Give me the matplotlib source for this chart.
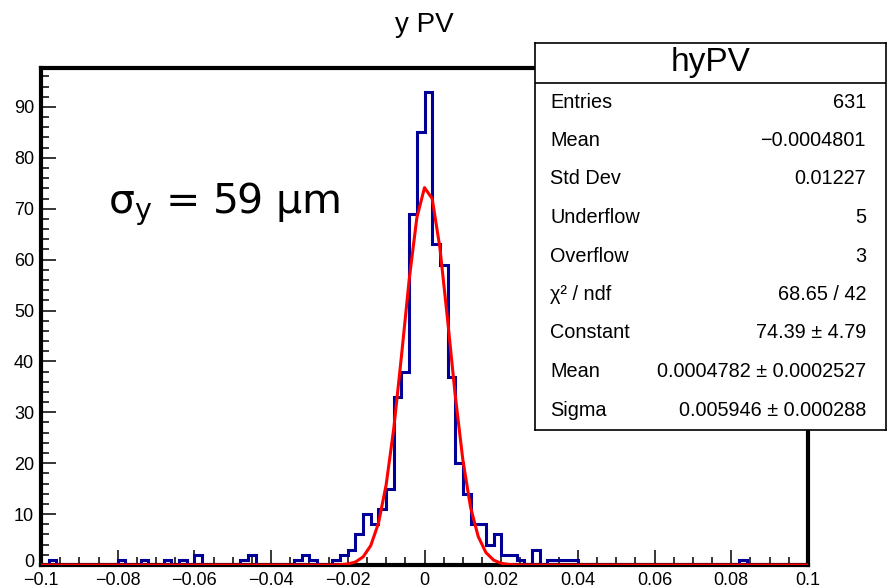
import numpy as np
import matplotlib
matplotlib.use("Agg")
import matplotlib.pyplot as plt
import matplotlib.transforms as mtransforms
from matplotlib.ticker import MultipleLocator, FixedLocator, FixedFormatter

# ---- data -------------------------------------------------------------
x_min, x_max, n_bins = -0.1, 0.1, 100
counts = np.zeros(n_bins)
bin_values = {
    1: 1, 10: 1, 13: 1, 16: 1, 18: 1, 20: 2, 26: 1, 27: 2,
    33: 1, 34: 2, 35: 1, 38: 1, 39: 2, 40: 3, 41: 6, 42: 10, 43: 8,
    44: 11, 45: 15, 46: 33, 47: 38, 48: 69, 49: 85, 50: 93, 51: 63,
    52: 59, 53: 37, 54: 20, 55: 14, 56: 8, 57: 8, 58: 4, 59: 6,
    60: 2, 61: 2, 62: 1, 64: 3, 66: 1, 67: 1, 68: 1, 69: 1, 91: 1,
}
for k, v in bin_values.items():
    counts[k] = v

fit_constant = 74.39
fit_mean = 0.0004782
fit_sigma = 0.005946
fit_npx = 100

x_tick_values = [-0.1, -0.08, -0.06, -0.04, -0.02, 0, 0.02, 0.04, 0.06, 0.08, 0.1]
x_tick_labels = ["\u22120.1", "\u22120.08", "\u22120.06", "\u22120.04", "\u22120.02",
                 "0", "0.02", "0.04", "0.06", "0.08", "0.1"]
y_tick_values = [0, 10, 20, 30, 40, 50, 60, 70, 80, 90]

title = "y PV"
annotation = "$\\mathregular{\\sigma_y}$ = 59 \u03bcm"
stats_title = "hyPV"
stats_labels = ["Entries", "Mean", "Std Dev", "Underflow", "Overflow",
                "\u03c7\u00b2 / ndf", "Constant", "Mean", "Sigma"]
stats_values = ["631", "\u22120.0004801", "0.01227", "5", "3", "68.65 / 42",
                "74.39 \u00b1 4.79", "0.0004782 \u00b1 0.0002527",
                "0.005946 \u00b1 0.000288"]

# ---- figure -----------------------------------------------------------
W, H = 888, 588
fig = plt.figure(figsize=(W / 100, H / 100), dpi=100)
helv = ["Liberation Sans", "DejaVu Sans"]

def fx(px):
    return px / W

def fy(py):
    return 1 - py / H

ax_l, ax_r, ax_t, ax_b = 41, 808, 68, 565
ax = fig.add_axes([fx(ax_l), fy(ax_b), fx(ax_r) - fx(ax_l), fy(ax_t) - fy(ax_b)])

edges = np.linspace(x_min, x_max, n_bins + 1)
ax.stairs(counts, edges, baseline=0, color="#000099", lw=2.2, zorder=3)

xf = np.linspace(x_min, x_max, fit_npx + 1)
yf = fit_constant * np.exp(-0.5 * ((xf - fit_mean) / fit_sigma) ** 2)
ax.plot(xf, yf, color="#ff0000", lw=2.2, zorder=4)

ax.set_xlim(x_min, x_max)
ax.set_ylim(0, counts.max() * 1.05)

for s in ax.spines.values():
    s.set_linewidth(3)
    s.set_color("black")

ax.xaxis.set_major_locator(FixedLocator(x_tick_values))
ax.xaxis.set_major_formatter(FixedFormatter(x_tick_labels))
ax.xaxis.set_minor_locator(MultipleLocator(0.005))
ax.yaxis.set_major_locator(FixedLocator(y_tick_values))
ax.yaxis.set_minor_locator(MultipleLocator(2))
ax.tick_params(which="both", direction="in", top=False, right=False, color="black")
ax.tick_params(which="major", length=11, width=1.1, labelsize=13, pad=4)
ax.tick_params(which="minor", length=5.5, width=1.1)
for lab in ax.get_xticklabels() + ax.get_yticklabels():
    lab.set_family(helv)
ax.tick_params(axis="y", pad=5)
ax.tick_params(axis="x", pad=5)

# nudge the y "0" label up slightly so it clears the x "-0.1" label
zero_lab = ax.yaxis.get_major_ticks()[0].label1
zero_lab.set_transform(zero_lab.get_transform() +
                       mtransforms.ScaledTranslation(0, 3 / 72, fig.dpi_scale_trans))

fig.text(fx(424.5), fy(25), title, ha="center", va="center", fontsize=20, family=helv)
fig.text(fx(108), fy(204), annotation, ha="left", va="center", fontsize=29.5,
         family=["DejaVu Sans"])

# ---- stats box ----------------------------------------------------------
bl, br, bt, bb = 535, 886, 43, 430
sax = fig.add_axes([fx(bl), fy(bb), fx(br) - fx(bl), fy(bt) - fy(bb)], zorder=10)
sax.set_xlim(bl, br)
sax.set_ylim(bb, bt)
sax.set_xticks([])
sax.set_yticks([])
sax.set_facecolor("white")
for s in sax.spines.values():
    s.set_linewidth(1.2)
sax.axhline(83, color="black", lw=1.2)
sax.text((bl + br) / 2, 62, stats_title, ha="center", va="center", fontsize=24, family=helv)
row_y0, row_dy = 102, 38.5
for i, (lab, val) in enumerate(zip(stats_labels, stats_values)):
    yy = row_y0 + i * row_dy
    sax.text(550, yy, lab, ha="left", va="center", fontsize=14.3, family=helv)
    sax.text(866, yy, val, ha="right", va="center", fontsize=14.3, family=helv)

fig.savefig("out.png", dpi=100)
